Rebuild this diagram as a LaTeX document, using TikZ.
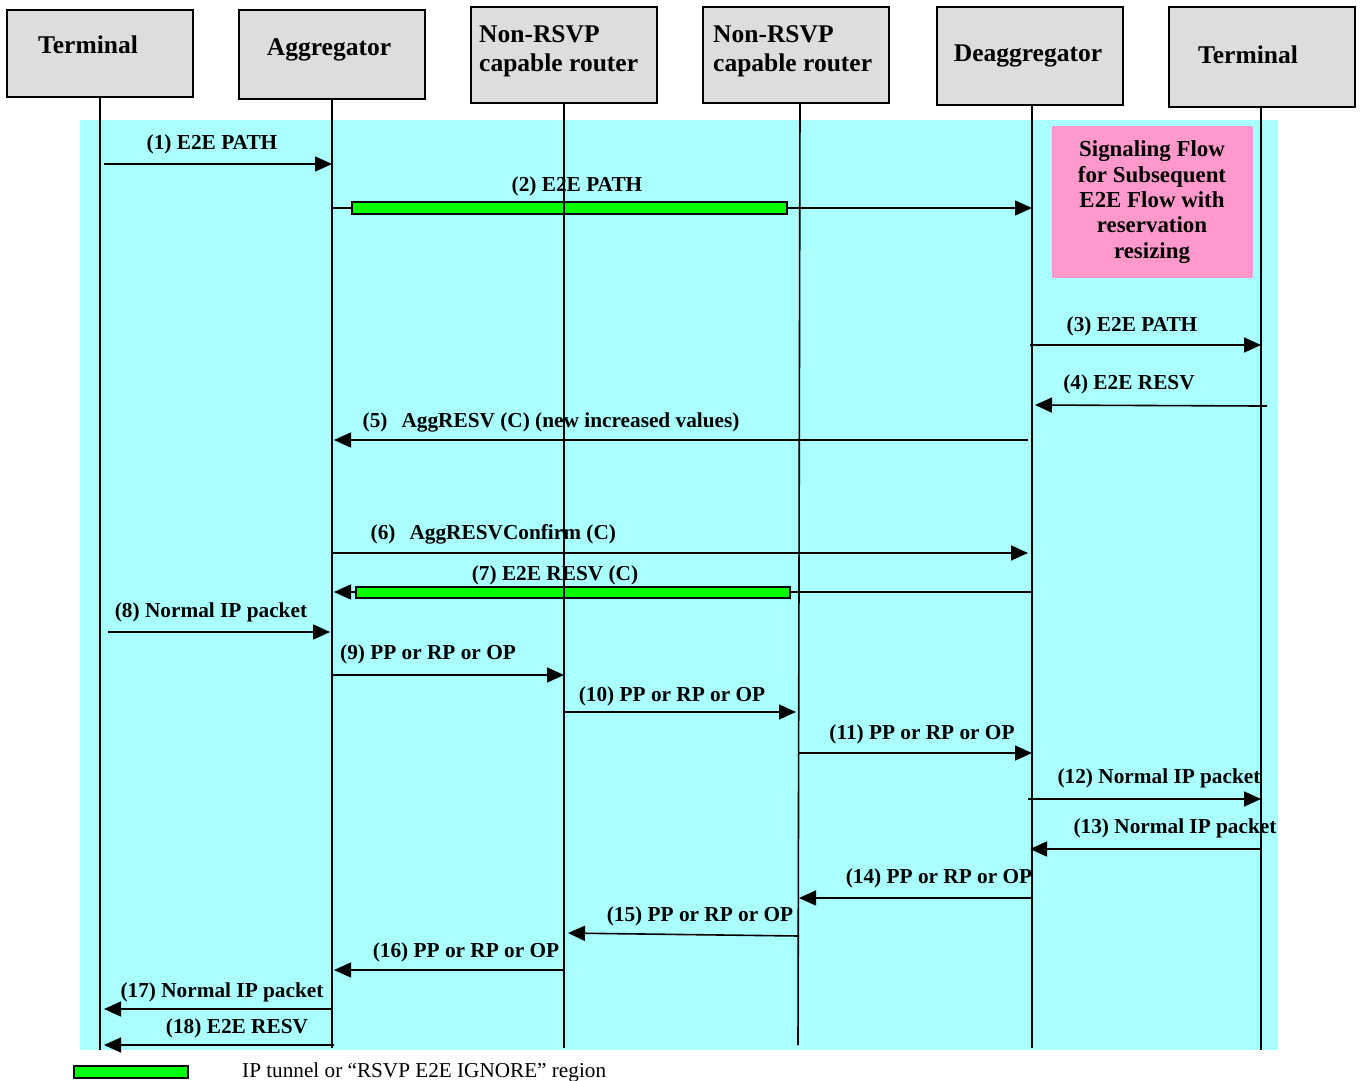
\documentclass[tikz,border=0pt]{standalone}
\usepackage{fontspec}
\setmainfont{Liberation Serif}
\usetikzlibrary{arrows.meta}
\definecolor{bgcyan}{RGB}{170,255,255}
\definecolor{boxgray}{RGB}{221,221,221}
\definecolor{notepink}{RGB}{255,153,204}
\definecolor{tunnelgreen}{RGB}{0,255,0}
\begin{document}
\begin{tikzpicture}[x=1pt,y=-1pt,
  entity/.style={draw=black, line width=1.8pt, fill=boxgray, inner sep=0pt,
    anchor=north west, minimum width=186pt},
  head/.style={inner sep=0pt, anchor=base, font=\bfseries\fontsize{25.5}{28.5}\selectfont},
  headleft/.style={inner sep=0pt, anchor=west, align=left, font=\bfseries\fontsize{25.5}{28.5}\selectfont},
  life/.style={line width=1.6pt},
  msg/.style={line width=1.6pt, -{Triangle[length=17pt,width=15pt]}},
  lbl/.style={inner sep=0pt, anchor=base, font=\bfseries\fontsize{21.3}{24}\selectfont},
  tunnel/.style={draw=black, line width=1.4pt, fill=tunnelgreen}
]
\useasboundingbox (0,0) rectangle (1362,1081);

% shaded signalling area and note
\fill[bgcyan] (80,120) rectangle (1278,1050);
\node[fill=notepink, minimum width=201pt, minimum height=152pt, inner sep=0pt, anchor=north west]
  (note) at (1052,126) {};
\node[inner sep=0pt, align=center, font=\bfseries\fontsize{22.9}{25.4}\selectfont]
  (notetext) at (1152,202) {Signaling Flow\\for Subsequent\\E2E Flow with\\reservation\\resizing};

% entities
\node[entity, minimum height=87pt] (t1) at (6,9) {};
\node[entity, minimum height=89pt] (ag) at (238,9) {};
\node[entity, minimum height=96pt] (r1) at (470,6) {};
\node[entity, minimum height=96pt] (r2) at (702,6) {};
\node[entity, minimum height=98pt] (de) at (936,6) {};
\node[entity, minimum height=100pt] (t2) at (1168,6) {};

\node[head] (t1l) at (88,53) {Terminal};
\node[head] (agl) at (329,56) {Aggregator};
\node[headleft] (r1l) at (479,51.5) {Non-RSVP\\capable router};
\node[headleft] (r2l) at (713,51.5) {Non-RSVP\\capable router};
\node[head] (del) at (1028,61.7) {Deaggregator};
\node[head] (t2l) at (1248,63.3) {Terminal};

% lifeline ends
\coordinate (lT1) at (100,1050);
\coordinate (lAg) at (332,1048);
\coordinate (lR1) at (564,1048);
\coordinate (lR2) at (799,1045);
\coordinate (lDe) at (1032,1048);
\coordinate (lT2) at (1261,1050);

% messages
\draw[msg, shorten <=4pt] (lT1 |- 0,164) -- (lAg |- 0,164);
\draw[msg] (lAg |- 0,208) -- (lDe |- 0,208);
\draw[tunnel] (352,202) rectangle (787,214);
\draw[msg, shorten <=-2pt] (lDe |- 0,345) -- (lT2 |- 0,345);
\draw[msg, shorten <=-6pt, shorten >=3pt] (lT2 |- 0,406) -- (lDe |- 0,405);
\draw[msg, shorten <=4pt, shorten >=2pt] (lDe |- 0,440) -- (lAg |- 0,440);
\draw[msg, shorten >=4pt] (lAg |- 0,553) -- (lDe |- 0,553);
\draw[msg, shorten >=2pt] (lDe |- 0,592) -- (lAg |- 0,592);
\draw[tunnel] (356,587) rectangle (790,598);
\draw[msg, shorten <=8pt, shorten >=2pt] (lT1 |- 0,632) -- (lAg |- 0,632);
\draw[msg] (lAg |- 0,675) -- (lR1 |- 0,675);
\draw[msg, shorten >=3pt] (lR1 |- 0,712) -- (lR2 |- 0,712);
\draw[msg] (lR2 |- 0,753) -- (lDe |- 0,753);
\draw[msg, shorten <=-4pt] (lDe |- 0,799) -- (lT2 |- 0,799);
\draw[msg, shorten >=-2pt] (lT2 |- 0,849) -- (lDe |- 0,849);
\draw[msg] (lDe |- 0,898) -- (lR2 |- 0,898);
\draw[msg, shorten >=4pt] (lR2 |- 0,936) -- (lR1 |- 0,933);
\draw[msg, shorten >=2pt] (lR1 |- 0,970) -- (lAg |- 0,970);
\draw[msg, shorten >=4pt] (lAg |- 0,1009) -- (lT1 |- 0,1009);
\draw[msg, shorten <=-2pt, shorten >=4pt] (lAg |- 0,1045) -- (lT1 |- 0,1045);

% message labels
\node[lbl] (m1) at (212,149) {(1) E2E PATH};
\node[lbl] (m2) at (577,191) {(2) E2E PATH};
\node[lbl] (m3) at (1132,331) {(3) E2E PATH};
\node[lbl] (m4) at (1129,389) {(4) E2E RESV};
\node[lbl, anchor=base west] (m5) at (362.5,427) {(5)\hspace{14pt}AggRESV (C) (new increased values)};
\node[lbl, anchor=base west] (m6) at (370.5,539) {(6)\hspace{14pt}AggRESVConfirm (C)};
\node[lbl] (m7) at (555,580) {(7) E2E RESV (C)};
\node[lbl] (m8) at (211,617) {(8) Normal IP packet};
\node[lbl] (m9) at (428,659) {(9) PP or RP or OP};
\node[lbl] (m10) at (672,701) {(10) PP or RP or OP};
\node[lbl] (m11) at (922,739) {(11) PP or RP or OP};
\node[lbl] (m12) at (1159,783) {(12) Normal IP packet};
\node[lbl] (m13) at (1175,833) {(13) Normal IP packet};
\node[lbl] (m14) at (939,883) {(14) PP or RP or OP};
\node[lbl] (m15) at (700,921) {(15) PP or RP or OP};
\node[lbl] (m16) at (466,957) {(16) PP or RP or OP};
\node[lbl] (m17) at (222,997) {(17) Normal IP packet};
\node[lbl] (m18) at (237,1033) {(18) E2E RESV};

% lifelines
\draw[life] (t1.south -| lT1) -- (lT1);
\draw[life] (ag.south -| lAg) -- (lAg);
\draw[life] (r1.south -| lR1) -- (lR1);
\draw[life] (r2.south -| 800,0) -- (798,1045);
\draw[life] (de.south -| lDe) -- (lDe);
\draw[life] (t2.south -| lT2) -- (lT2);

% legend
\draw[tunnel] (74,1066) rectangle (188,1078);
\node[inner sep=0pt, anchor=base west, font=\fontsize{21.2}{24}\selectfont]
  (legend) at (242,1077) {IP tunnel or “RSVP E2E IGNORE” region};
\end{tikzpicture}
\end{document}
